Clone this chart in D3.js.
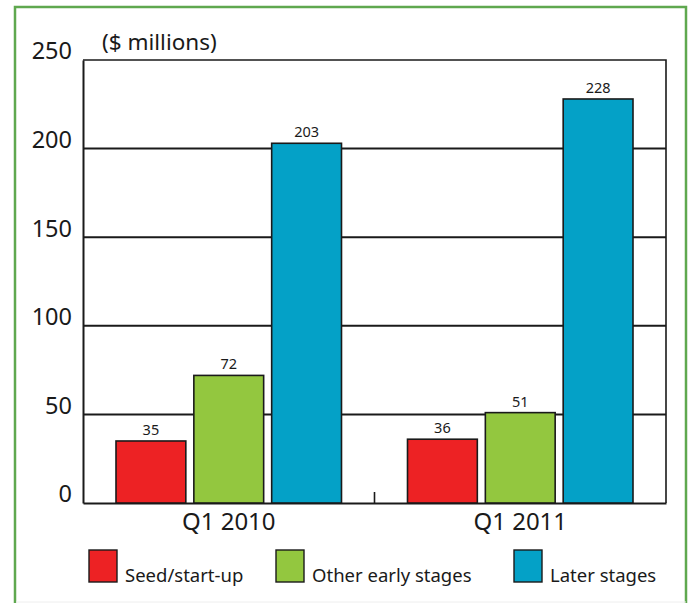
<!DOCTYPE html>
<html>
<head>
<meta charset="utf-8">
<script src="https://cdn.jsdelivr.net/npm/d3@7"></script>
<style>
  html, body { margin: 0; padding: 0; background: #fff; }
  svg { display: block; }
  text { font-family: "Noto Sans", "Open Sans", sans-serif; fill: #1a1a1a; }
</style>
</head>
<body>
<svg id="chart" width="689" height="603"></svg>
<script>
// Venture investment by stage, first quarter
const quarters = ["Q1 2010", "Q1 2011"];
const stages = ["Seed/start-up", "Other early stages", "Later stages"];
const seedValues = [35, 36];
const earlyValues = [72, 51];
const laterValues = [203, 228];
const yTicks = [0, 50, 100, 150, 200, 250];
const stageColors = ["#ed2224", "#93c73f", "#04a1c7"];
const unitLabel = "($ millions)";

const seriesValues = [seedValues, earlyValues, laterValues];

const svg = d3.select("#chart");
const W = 689, H = 603;
const plot = { left: 83, right: 666, top: 60, bottom: 503 };

// outer frame
svg.append("rect")
  .attr("x", 15).attr("y", 7)
  .attr("width", 671).attr("height", 620)
  .attr("fill", "none")
  .attr("stroke", "#5fa84f")
  .attr("stroke-width", 2.5);
svg.append("line")
  .attr("x1", 16).attr("x2", 686).attr("y1", 602).attr("y2", 602)
  .attr("stroke", "#eeeeee").attr("stroke-width", 1);

const y = d3.scaleLinear().domain([0, 250]).range([plot.bottom, plot.top]);
const x0 = d3.scaleBand().domain(quarters).range([plot.left, plot.right]).padding(0);
const x1 = d3.scaleBand().domain(stages)
  .range([33, x0.bandwidth() - 33])
  .paddingInner(0.103).paddingOuter(0);

// plot box (top and right edges)
svg.append("path")
  .attr("d", `M${plot.left},${plot.top}H${plot.right}V${plot.bottom}`)
  .attr("fill", "none").attr("stroke", "#1a1a1a").attr("stroke-width", 1.6);

// horizontal gridlines
svg.append("g")
  .selectAll("line")
  .data(yTicks.filter(t => t > 0 && t < 250))
  .join("line")
  .attr("x1", plot.left).attr("x2", plot.right)
  .attr("y1", d => y(d)).attr("y2", d => y(d))
  .attr("stroke", "#1a1a1a").attr("stroke-width", 2);

// y axis with labels sitting on their gridlines
const yAxis = svg.append("g")
  .attr("transform", `translate(${plot.left},0)`)
  .call(d3.axisLeft(y).tickValues(yTicks).tickSize(0).tickPadding(11));
yAxis.select(".domain").attr("stroke", "#1a1a1a").attr("stroke-width", 2);
yAxis.selectAll("text")
  .attr("dy", "-0.05em")
  .style("font-size", "23.5px")
  .style("font-family", "'Noto Sans', sans-serif")
  .attr("fill", "#1a1a1a");

// x axis
const xAxis = svg.append("g")
  .attr("transform", `translate(0,${plot.bottom})`)
  .call(d3.axisBottom(x0).tickSize(0).tickPadding(0));
xAxis.select(".domain").attr("stroke", "#1a1a1a").attr("stroke-width", 2);
xAxis.selectAll("text")
  .attr("y", 27).attr("dy", 0)
  .style("font-size", "24px")
  .style("font-family", "'Noto Sans', sans-serif")
  .attr("fill", "#1a1a1a");

// separator tick between the two quarters
svg.append("line")
  .attr("x1", x0(quarters[1])).attr("x2", x0(quarters[1]))
  .attr("y1", plot.bottom).attr("y2", plot.bottom - 11)
  .attr("stroke", "#1a1a1a").attr("stroke-width", 1.6);

// bars
const groups = svg.append("g")
  .selectAll("g")
  .data(quarters)
  .join("g")
  .attr("transform", d => `translate(${x0(d)},0)`);

const barData = (q, qi) => stages.map((s, si) => ({ stage: s, value: seriesValues[si][qi], color: stageColors[si] }));

groups.each(function(q, qi) {
  const g = d3.select(this);
  const data = barData(q, qi);
  g.selectAll("rect")
    .data(data)
    .join("rect")
    .attr("x", d => x1(d.stage))
    .attr("y", d => y(d.value))
    .attr("width", x1.bandwidth())
    .attr("height", d => y(0) - y(d.value))
    .attr("fill", d => d.color)
    .attr("stroke", "#1a1a1a")
    .attr("stroke-width", 1.6);
  g.selectAll("text.value")
    .data(data)
    .join("text")
    .attr("class", "value")
    .attr("x", d => x1(d.stage) + x1.bandwidth() / 2)
    .attr("y", d => y(d.value) - 6)
    .attr("text-anchor", "middle")
    .style("font-size", "14.5px")
    .attr("fill", "#333")
    .text(d => d.value);
});

// unit label
svg.append("text")
  .attr("x", 102).attr("y", 50)
  .style("font-size", "22.5px")
  .text(unitLabel);

// legend
const legendX = [89, 276, 514];
const legend = svg.append("g")
  .selectAll("g")
  .data(stages)
  .join("g")
  .attr("transform", (d, i) => `translate(${legendX[i]},550)`);
legend.append("rect")
  .attr("width", 28).attr("height", 32)
  .attr("fill", (d, i) => stageColors[i])
  .attr("stroke", "#1a1a1a").attr("stroke-width", 1.4);
legend.append("text")
  .attr("x", 36).attr("y", 32)
  .style("font-size", "18.5px")
  .text(d => d);
</script>
</body>
</html>
